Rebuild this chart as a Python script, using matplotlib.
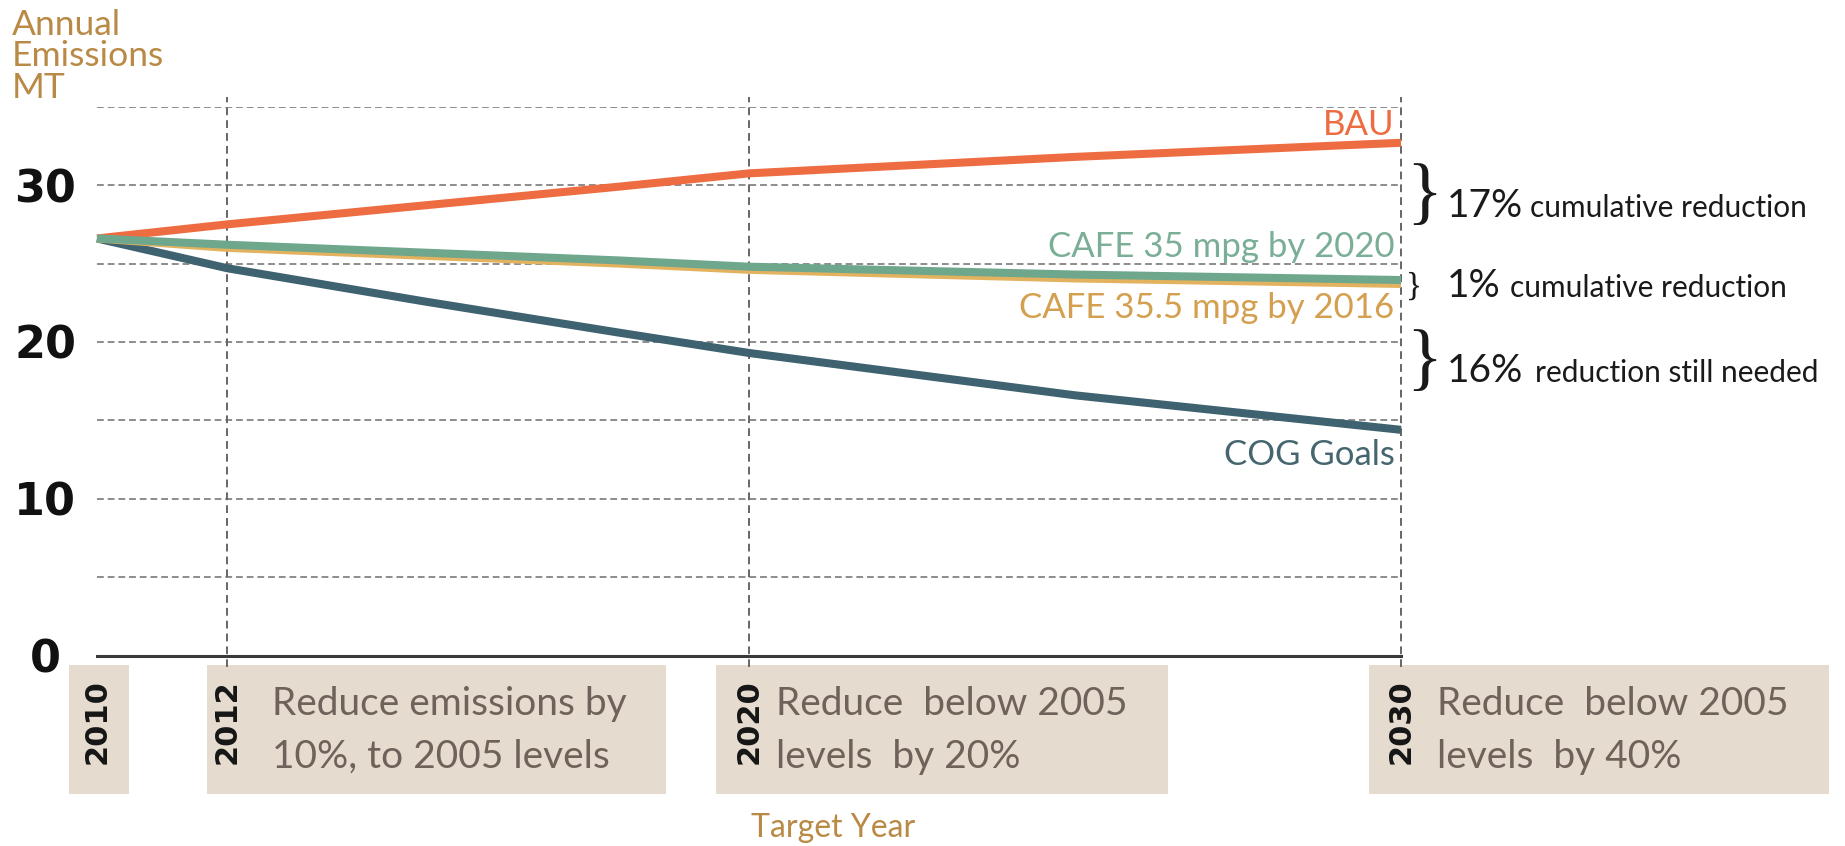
import matplotlib
matplotlib.use('Agg')
import matplotlib.pyplot as plt
from matplotlib.patches import Rectangle

# data (annual emissions, MT)
years = [2010, 2012, 2015, 2018, 2020, 2025, 2030]
bau = [26.6, 27.5, 28.7, 29.9, 30.75, 31.8, 32.7]
cafe_2020 = [26.6, 26.2, 25.7, 25.2, 24.8, 24.3, 23.95]
cafe_2016 = [26.6, 26.0, 25.5, 25.0, 24.6, 24.05, 23.7]
cog = [26.6, 24.7, 22.6, 20.6, 19.3, 16.6, 14.4]

ytick_vals = [0, 10, 20, 30]
grid_vals = [5, 10, 15, 20, 25, 30, 35]
target_years = [2010, 2012, 2020, 2030]
target_lines = [
    None,
    ('Reduce emissions by', '10%, to 2005 levels'),
    ('Reduce  below 2005', 'levels  by 20%'),
    ('Reduce  below 2005', 'levels  by 40%'),
]
notes = [('17%', 'cumulative reduction'),
         ('1%', 'cumulative reduction'),
         ('16%', 'reduction still needed')]

c_bau = '#ee6c42'
c_green = '#6fa78d'
c_gold = '#e2b25f'
c_cog = '#3e6270'
c_brown = '#b98a45'

plt.rcParams['font.family'] = ['Lato', 'DejaVu Sans']

W, H = 1845, 846
fig = plt.figure(figsize=(W / 100, H / 100), dpi=100)
fig.patch.set_facecolor('white')


def fx(x):
    return x / W


def fy(y):
    return 1 - y / H


ax = fig.add_axes([fx(97), fy(655.7), fx(1401) - fx(97), fy(106.7) - fy(655.7)])
ax.set_xlim(2010, 2030)
ax.set_ylim(0, 35)
for s in ['top', 'right', 'left']:
    ax.spines[s].set_visible(False)
ax.spines['bottom'].set_color('#3a3a3a')
ax.spines['bottom'].set_linewidth(2.2)

# dashed grid
ax.hlines(grid_vals, 2010, 2030, colors='#8c8c8c', linestyles=(0, (3.5, 2)),
          linewidth=1.4, zorder=1)
for yr in target_years[1:]:
    ax.plot([yr, yr], [-0.75, 35.6], color='#666666', lw=1.4,
            ls=(0, (4, 2.6)), clip_on=False, zorder=1)

# series
ax.plot(years, bau, color=c_bau, lw=5.8, solid_capstyle='butt', clip_on=False, zorder=3)
ax.plot(years, cog, color=c_cog, lw=5.8, solid_capstyle='butt', clip_on=False, zorder=3)
ax.plot(years, cafe_2016, color=c_gold, lw=5.8, solid_capstyle='butt', clip_on=False, zorder=3)
ax.plot(years, cafe_2020, color=c_green, lw=5.8, solid_capstyle='butt', clip_on=False, zorder=4)

ax.text(2029.9, 33.2, 'BAU', color=c_bau, fontsize=25, ha='right', va='baseline')
ax.text(2029.9, 25.4, 'CAFE 35 mpg by 2020', color='#7aae96', fontsize=25,
        ha='right', va='baseline')
ax.text(2029.9, 21.5, 'CAFE 35.5 mpg by 2016', color='#d4a050', fontsize=25,
        ha='right', va='baseline')
ax.text(2029.9, 12.15, 'COG Goals', color='#46666f', fontsize=25,
        ha='right', va='baseline')

# axes ticks
ax.set_yticks(ytick_vals)
ax.set_yticklabels([str(v) for v in ytick_vals])
ax.tick_params(axis='y', length=0, pad=37.4, labelsize=32)
for lbl in ax.get_yticklabels():
    lbl.set_ha('center')
    lbl.set_fontweight('bold')
    lbl.set_family('DejaVu Sans')
    lbl.set_color('#111111')

ax.set_xticks(target_years)
ax.set_xticklabels([str(y) for y in target_years], rotation=90)
ax.tick_params(axis='x', length=0, pad=17, labelsize=22)
for lbl in ax.get_xticklabels():
    lbl.set_fontweight('bold')
    lbl.set_family('DejaVu Sans')
    lbl.set_color('#151515')

# target boxes under the axis
boxes = [(69, 129), (207, 666), (716, 1168), (1369, 1829)]
text_x = [None, 272, 776, 1437]
for (x0, x1), lines, tx in zip(boxes, target_lines, text_x):
    fig.add_artist(Rectangle((fx(x0), fy(794)), fx(x1) - fx(x0), fy(665) - fy(794),
                             transform=fig.transFigure, facecolor='#e6dbcf',
                             edgecolor='none', zorder=-1))
    if lines:
        fig.text(fx(tx), fy(715), lines[0], fontsize=28, color='#6e625a', va='baseline')
        fig.text(fx(tx), fy(768), lines[1], fontsize=28, color='#6e625a', va='baseline')

fig.text(fx(833), fy(828), 'Target Year', fontsize=23, color=c_brown,
         ha='center', va='center')

# y title
for t, b in zip(['Annual', 'Emissions', 'MT'], [35, 66, 98]):
    fig.text(fx(12), fy(b), t, fontsize=25.5, color=c_brown, va='baseline')

# braces and notes on the right
brace_spec = [(197, 54), (287, 24), (363, 54)]
note_base = [217, 297, 382]
note_x2 = [1530, 1510, 1535]
for (cy, fs), (big, small), b, x2 in zip(brace_spec, notes, note_base, note_x2):
    fig.text(fx(1406), fy(cy), '}', fontsize=fs, family='Liberation Serif',
             color='#1a1a1a', va='center', ha='left')
    fig.text(fx(1447), fy(b), big, fontsize=28, color='#1a1a1a', va='baseline')
    fig.text(fx(x2), fy(b), small, fontsize=21.5, color='#1a1a1a', va='baseline')

fig.savefig('out.png', dpi=100)
